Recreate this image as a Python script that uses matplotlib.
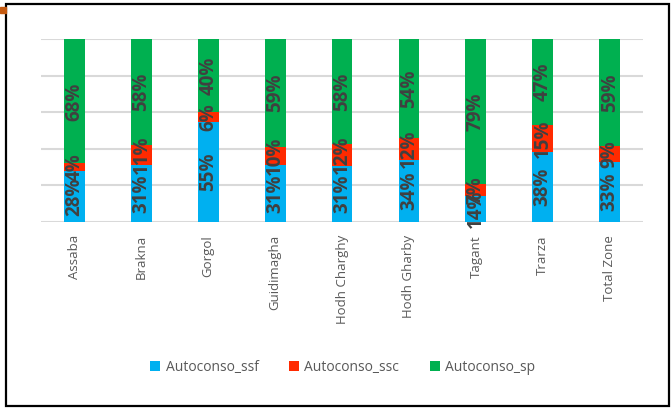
import numpy as np
import matplotlib
matplotlib.use("Agg")
import matplotlib.pyplot as plt
from matplotlib.patches import Rectangle

# share of each autoconsommation source per wilaya (%)
regions = ["Assaba", "Brakna", "Gorgol", "Guidimagha", "Hodh Charghy",
           "Hodh Gharby", "Tagant", "Trarza", "Total Zone"]
ssf = [28, 31, 55, 31, 31, 34, 14, 38, 33]
ssc = [4, 11, 6, 10, 12, 12, 7, 15, 9]
sp = [68, 58, 40, 59, 58, 54, 79, 47, 59]

series = [("Autoconso_ssf", ssf, "#00B0F0"),
          ("Autoconso_ssc", ssc, "#FF2A00"),
          ("Autoconso_sp", sp, "#00B050")]

fig = plt.figure(figsize=(6.72, 4.08), dpi=100)
ax = fig.add_axes([0.061, 0.456, 0.896, 0.448])

x = np.arange(len(regions))
totals = np.array(ssf) + np.array(ssc) + np.array(sp)
bottom = np.zeros(len(regions))
for name, vals, col in series:
    share = np.array(vals) / totals
    ax.bar(x, share, 0.31, bottom=bottom, color=col, label=name, zorder=2)
    for xi, b, h, v in zip(x, bottom, share, vals):
        ax.text(xi, b + h / 2, f"{v}%", rotation=90, ha="center", va="center",
                fontsize=13.5, fontweight="bold", color="#404040",
                family="Open Sans", zorder=3)
    bottom += share

ax.set_ylim(0, 1)
ax.set_xlim(-0.5, len(regions) - 0.5)
ax.set_yticks(np.linspace(0, 1, 6))
ax.yaxis.grid(True, color="#D9D9D9", lw=1.5, zorder=0)
ax.tick_params(axis="y", left=False, labelleft=False)
ax.tick_params(axis="x", bottom=False, pad=6)
ax.set_xticks(x)
ax.set_xticklabels(regions, rotation=90, fontsize=9.5, color="#595959",
                   family="Open Sans")
for s in ax.spines.values():
    s.set_visible(False)

fig.legend(loc="center", bbox_to_anchor=(0.51, 0.1), ncol=3, frameon=False,
           handlelength=0.7, handleheight=0.7, columnspacing=2.2,
           handletextpad=0.4, prop={"family": "Open Sans", "size": 10},
           labelcolor="#595959")

# chart frame and corner mark
fig.patches.append(Rectangle((6 / 672, 2 / 408), 663 / 672, 402 / 408,
                             transform=fig.transFigure, fill=False,
                             edgecolor="black", lw=1.6))
fig.patches.append(Rectangle((0, 1 - 13 / 408), 6 / 672, 6 / 408,
                             transform=fig.transFigure, color="#C55A11"))

fig.savefig("out.png", dpi=100)
